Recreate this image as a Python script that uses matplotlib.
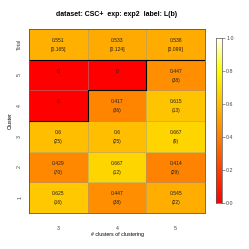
import numpy as np
import matplotlib
matplotlib.use("Agg")
import matplotlib.pyplot as plt
from matplotlib.colors import LinearSegmentedColormap

plt.rcParams['font.family'] = ['Liberation Sans', 'DejaVu Sans']

# rows from bottom to top: 1, 2, 3, 4, 5, Total
row_labels = ['1', '2', '3', '4', '5', 'Total']
col_labels = ['3', '4', '5']
values = [
    [0.625, 0.447, 0.545],
    [0.429, 0.667, 0.414],
    [0.6, 0.6, 0.667],
    [0, 0.417, 0.615],
    [0, 0, 0.447],
    [0.551, 0.533, 0.538],
]
counts = [
    ['(16)', '(38)', '(22)'],
    ['(70)', '(12)', '(29)'],
    ['(25)', '(25)', '(9)'],
    ['', '(36)', '(13)'],
    ['', '', '(38)'],
    ['[0.165]', '[0.124]', '[0.099]'],
]
value_text = [
    ['0.625', '0.447', '0.545'],
    ['0.429', '0.667', '0.414'],
    ['0.6', '0.6', '0.667'],
    ['0', '0.417', '0.615'],
    ['0', '0', '0.447'],
    ['0.551', '0.533', '0.538'],
]

cmap = LinearSegmentedColormap.from_list(
    'heat', [(0, '#FF0000'), (0.8, '#FFFF00'), (1.0, '#FFFFFF')])

W = 249
fig = plt.figure(figsize=(W / 100, W / 100), dpi=100)
ax = fig.add_axes([29 / W, 36 / W, 176 / W, 184 / W])

data = np.array(values)
ax.pcolormesh(np.arange(4), np.arange(7), data, cmap=cmap, vmin=0, vmax=1,
              edgecolor=(0.6, 0.6, 0.6, 0.45), linewidth=0.6)

for i in range(len(row_labels)):
    for j in range(len(col_labels)):
        ax.text(j + 0.5, i + 0.62, value_text[i][j], ha='center', va='center',
                fontsize=3.6, color='#222222')
        if counts[i][j]:
            ax.text(j + 0.5, i + 0.33, counts[i][j], ha='center', va='center',
                    fontsize=3.6, color='#222222')

# separator under Total row and outline of the zero cells
ax.plot([0, 3], [5, 5], color='black', lw=0.8)
ax.plot([2, 2, 1, 1, 0], [5, 4, 4, 3, 3], color='black', lw=0.8)

ax.set_xlim(0, 3)
ax.set_ylim(0, 6)
ax.set_xticks(np.arange(3) + 0.5)
ax.set_xticklabels(col_labels, fontsize=3.8)
ax.set_yticks(np.arange(6) + 0.5)
ax.set_yticklabels(row_labels, fontsize=3.8, rotation=90, va='center')
ax.tick_params(length=0, pad=5, colors='#444444')
ax.tick_params(axis='x', length=0, pad=9)
for s in ax.spines.values():
    s.set_color('#555555')
    s.set_linewidth(0.6)
ax.set_xlabel('# clusters of clustering', fontsize=3.8, labelpad=1)
ax.set_ylabel('Cluster', fontsize=3.8, labelpad=3)
fig.text(117 / W, 1 - 14 / W, 'dataset: CSC+  exp: exp2  label: L(b)',
         ha='center', va='center', fontsize=5.0, fontweight='bold')

cax = fig.add_axes([216 / W, 46 / W, 6 / W, 165 / W])
grad = np.linspace(0, 1, 256).reshape(-1, 1)
cax.imshow(grad, cmap=cmap, aspect='auto', origin='lower', extent=[0, 1, 0, 1])
cax.set_xticks([])
cax.yaxis.tick_right()
cax.set_yticks([0, 0.2, 0.4, 0.6, 0.8, 1.0])
cax.set_yticklabels(['0.0', '0.2', '0.4', '0.6', '0.8', '1.0'], fontsize=3.8)
cax.tick_params(length=2, width=0.4, pad=1, colors='#444444')
for s in cax.spines.values():
    s.set_color('#555555')
    s.set_linewidth(0.5)

fig.savefig('out.png', dpi=100)
